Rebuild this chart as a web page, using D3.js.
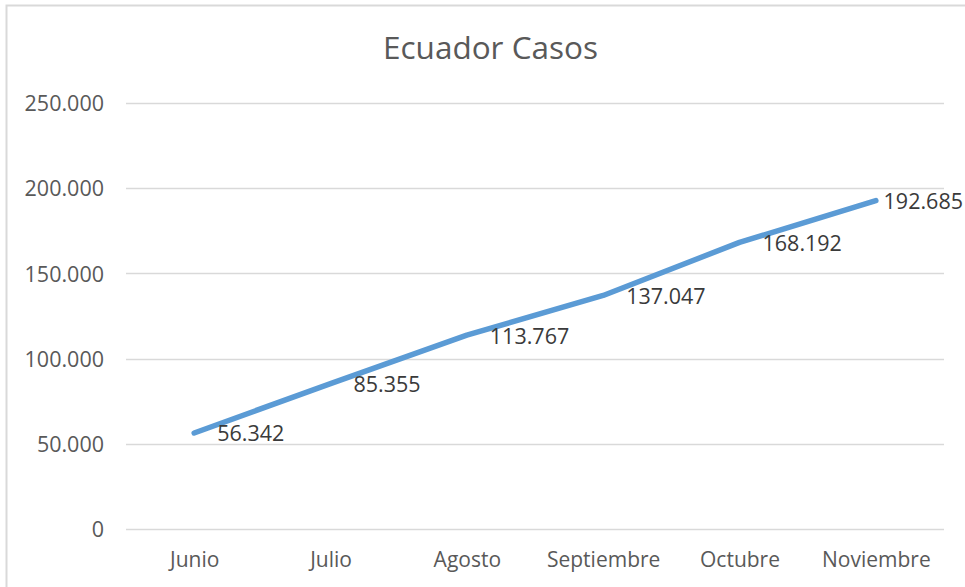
<!DOCTYPE html>
<html>
<head>
<meta charset="utf-8">
<script src="https://cdn.jsdelivr.net/npm/d3@7"></script>
<style>
  html, body { margin: 0; padding: 0; background: #fff; }
  svg { display: block; }
  text { font-family: "Open Sans", "Noto Sans", sans-serif; }
</style>
</head>
<body>
<svg id="chart" width="965" height="587"></svg>
<script>
const title = "Ecuador Casos";
const categories = ["Junio", "Julio", "Agosto", "Septiembre", "Octubre", "Noviembre"];
const casos = [56342, 85355, 113767, 137047, 168192, 192685];
const yTicks = [0, 50000, 100000, 150000, 200000, 250000];

const W = 965, H = 587;
const margin = { left: 126, right: 21, top: 103, bottom: 58 };
const svg = d3.select("#chart");

// chart border
svg.append("rect")
  .attr("x", 6.5).attr("y", 5.5)
  .attr("width", W + 10).attr("height", H + 10)
  .attr("fill", "none").attr("stroke", "#d9d9d9").attr("stroke-width", 2);

const x = d3.scalePoint().domain(categories)
  .range([margin.left, W - margin.right]).padding(0.5);
const y = d3.scaleLinear().domain([0, 250000])
  .range([H - margin.bottom, margin.top]);

const fmt = v => d3.format(",")(v).replace(/,/g, ".");

// gridlines
svg.append("g").selectAll("line").data(yTicks).join("line")
  .attr("x1", margin.left).attr("x2", W - margin.right)
  .attr("y1", d => Math.round(y(d)) + 0.5).attr("y2", d => Math.round(y(d)) + 0.5)
  .attr("stroke", "#d9d9d9").attr("stroke-width", 1.5);

// y axis labels
const yAxis = d3.axisLeft(y).tickValues(yTicks).tickFormat(fmt).tickSize(0).tickPadding(0);
const gy = svg.append("g").attr("transform", `translate(${margin.left - 22},0)`).call(yAxis);
gy.select(".domain").remove();
gy.selectAll("text").attr("fill", "#595959").style("font-size", "21.5px")
  .attr("dy", "0.36em");

// x axis labels
const xAxis = d3.axisBottom(x).tickSize(0).tickPadding(0);
const gx = svg.append("g").attr("transform", `translate(0,${H - margin.bottom})`).call(xAxis);
gx.select(".domain").remove();
gx.selectAll("text").attr("fill", "#595959").style("font-size", "21px")
  .attr("dy", null).attr("y", 38);

// line
const line = d3.line().x((d, i) => x(categories[i])).y(d => y(d));
svg.append("path").datum(casos)
  .attr("d", line)
  .attr("fill", "none").attr("stroke", "#5b9bd5")
  .attr("stroke-width", 5.5).attr("stroke-linecap", "round").attr("stroke-linejoin", "round");

// data labels
const labels = svg.append("g").selectAll("text").data(casos).join("text")
  .attr("x", (d, i) => x(categories[i]) + 23)
  .attr("y", d => y(d) + 8.5)
  .attr("fill", "#3a3a3a").style("font-size", "21.5px")
  .text(d => fmt(d));
labels.each(function() {
  const bb = this.getBBox();
  const maxRight = W - 2;
  if (bb.x + bb.width > maxRight) d3.select(this).attr("x", maxRight - bb.width);
});

// title
svg.append("text").attr("x", 490.5).attr("y", 59)
  .attr("text-anchor", "middle").attr("fill", "#595959")
  .style("font-size", "31.5px").text(title);
</script>
</body>
</html>
